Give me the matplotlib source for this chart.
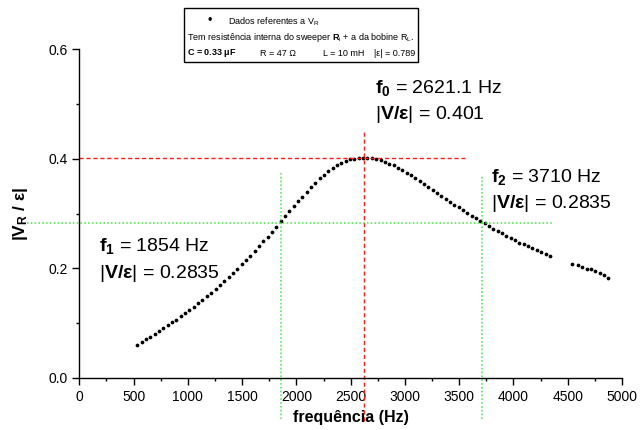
import matplotlib
matplotlib.use('Agg')
import matplotlib.pyplot as plt
from matplotlib.patches import Rectangle

plt.rcParams['font.family'] = ['Liberation Sans', 'DejaVu Sans']
plt.rcParams['mathtext.fontset'] = 'custom'
plt.rcParams['mathtext.rm'] = 'Liberation Sans'
plt.rcParams['mathtext.bf'] = 'Liberation Sans:bold'
plt.rcParams['mathtext.it'] = 'Liberation Sans:italic'
plt.rcParams['mathtext.sf'] = 'Liberation Sans'

# measured points, first sweep
freq_a = [535, 575, 615, 655, 695, 735, 775, 815, 855, 895,
          935, 975, 1015, 1055, 1095, 1135, 1175, 1215, 1255, 1295,
          1335, 1375, 1415, 1455, 1495, 1535, 1575, 1615, 1655, 1695,
          1735, 1775, 1815, 1855, 1895, 1935, 1975, 2015, 2055, 2095,
          2135, 2175, 2215, 2255, 2295, 2335, 2375, 2415, 2455, 2495,
          2535, 2575, 2615, 2655, 2695, 2735, 2775, 2815, 2855, 2895,
          2935, 2975, 3015, 3055, 3095, 3135, 3175, 3215, 3255, 3295,
          3335, 3375, 3415, 3455, 3495, 3535, 3575, 3615, 3655, 3695,
          3735, 3775, 3815, 3855, 3895, 3935, 3975, 4015, 4055, 4095,
          4135, 4175, 4215, 4255, 4295, 4335]
ratio_a = [0.060, 0.065, 0.070, 0.075, 0.080, 0.085, 0.090, 0.096, 0.101, 0.106,
           0.112, 0.118, 0.124, 0.130, 0.136, 0.142, 0.149, 0.155, 0.162, 0.169,
           0.177, 0.184, 0.191, 0.199, 0.207, 0.215, 0.223, 0.232, 0.241, 0.249,
           0.258, 0.267, 0.276, 0.286, 0.295, 0.304, 0.313, 0.322, 0.331, 0.340,
           0.348, 0.356, 0.364, 0.371, 0.377, 0.383, 0.388, 0.392, 0.396, 0.399,
           0.400, 0.401, 0.402, 0.402, 0.401, 0.400, 0.397, 0.395, 0.391, 0.388,
           0.384, 0.379, 0.374, 0.370, 0.364, 0.359, 0.354, 0.349, 0.343, 0.338,
           0.332, 0.327, 0.321, 0.316, 0.311, 0.306, 0.301, 0.296, 0.291, 0.287,
           0.282, 0.277, 0.272, 0.268, 0.264, 0.259, 0.255, 0.251, 0.247, 0.244,
           0.240, 0.237, 0.233, 0.230, 0.226, 0.223]

# second sweep (high frequencies)
freq_b = [4540, 4590, 4630, 4675, 4715, 4755, 4795, 4835, 4875]
ratio_b = [0.208, 0.206, 0.203, 0.199, 0.198, 0.195, 0.192, 0.188, 0.182]

f0, v0 = 2621.1, 0.401
f1, f2, v_half = 1854, 3710, 0.2835

fig = plt.figure(figsize=(6.41, 4.30), dpi=100)
ax = fig.add_axes([0.1237, 0.1216, 0.8467, 0.7637])

ax.plot(freq_a, ratio_a, 'o', color='black', markersize=2.7, markeredgewidth=0)
ax.plot(freq_b, ratio_b, 'o', color='black', markersize=2.7, markeredgewidth=0)

# resonance guide lines
red = '#ff1a1a'
green = '#3fe83f'
ax.plot([0, 3550], [v0, v0], color=red, lw=1.0, ls=(0, (3, 2)), clip_on=False)
ax.plot([f0, f0], [-0.08, 0.45], color=red, lw=1.0, ls=(0, (3, 2)), clip_on=False)
ax.plot([-480, 4370], [v_half, v_half], color=green, lw=1.1, ls=(0, (1, 1.5)), clip_on=False)
ax.plot([f1, f1], [-0.075, 0.375], color=green, lw=1.1, ls=(0, (1, 1.5)), clip_on=False)
ax.plot([f2, f2], [-0.075, 0.370], color=green, lw=1.1, ls=(0, (1, 1.5)), clip_on=False)

ax.set_xlim(0, 5000)
ax.set_ylim(0, 0.6)
ax.set_xticks(range(0, 5001, 500))
ax.set_xticks(range(250, 5000, 500), minor=True)
ax.set_yticks([0.0, 0.2, 0.4, 0.6])
ax.set_yticks([0.1, 0.3, 0.5], minor=True)
ax.yaxis.set_major_formatter(plt.FuncFormatter(lambda v, _: f'{v:.1f}'))
ax.tick_params(which='major', direction='out', length=5, width=1, labelsize=10)
ax.tick_params(which='minor', direction='out', length=2.5, width=1)
for side in ['top', 'right']:
    ax.spines[side].set_visible(False)
for side in ['left', 'bottom']:
    ax.spines[side].set_linewidth(1)

ax.set_xlabel('frequência (Hz)', fontsize=11.5, fontweight='bold', labelpad=5)
ax.set_ylabel(r'$\mathbf{|V_R\ /\ ε|}$', fontsize=12.5, labelpad=13)

lab = 14
ax.text(2724, 0.529, r'$\mathbf{f}_{\mathbf{0}}$ = 2621.1 Hz', fontsize=lab, va='center')
ax.text(2724, 0.480, r'$|\mathbf{V/ε}|$ = 0.401', fontsize=lab, va='center')
ax.text(3790, 0.367, r'$\mathbf{f}_{\mathbf{2}}$ = 3710 Hz', fontsize=lab, va='center')
ax.text(3790, 0.319, r'$|\mathbf{V/ε}|$ = 0.2835', fontsize=lab, va='center')
ax.text(181, 0.241, r'$\mathbf{f}_{\mathbf{1}}$ = 1854 Hz', fontsize=lab, va='center')
ax.text(181, 0.191, r'$|\mathbf{V/ε}|$ = 0.2835', fontsize=lab, va='center')

# header box with the experiment details
W, H = 641.0, 430.0
fig.patches.append(Rectangle((184 / W, 1 - 62 / H), 234 / W, 54 / H,
                             transform=fig.transFigure, fill=False,
                             edgecolor='black', lw=1))
hs = 6.5
fig.text(207 / W, 1 - 21 / H, '•', fontsize=9, va='center')
fig.text(228 / W, 1 - 22 / H, r'Dados referentes a V$_\mathrm{R}$', fontsize=hs, va='center')
fig.text(187 / W, 1 - 38 / H,
         r'Tem resistência interna do sweeper $\mathbf{R}_\mathrm{i}$ + a da bobine R$_\mathrm{L}$.',
         fontsize=hs, va='center')
fig.text(187 / W, 1 - 53 / H, r'C = 0.33 $\mathbf{\mu}$F', fontsize=hs, va='center', fontweight='bold')
fig.text(260 / W, 1 - 53 / H, 'R = 47 Ω', fontsize=hs, va='center')
fig.text(323 / W, 1 - 53 / H, 'L = 10 mH', fontsize=hs, va='center')
fig.text(374 / W, 1 - 53 / H, '|ε| = 0.789', fontsize=hs, va='center')

fig.savefig('out.png', dpi=100, facecolor='white')
